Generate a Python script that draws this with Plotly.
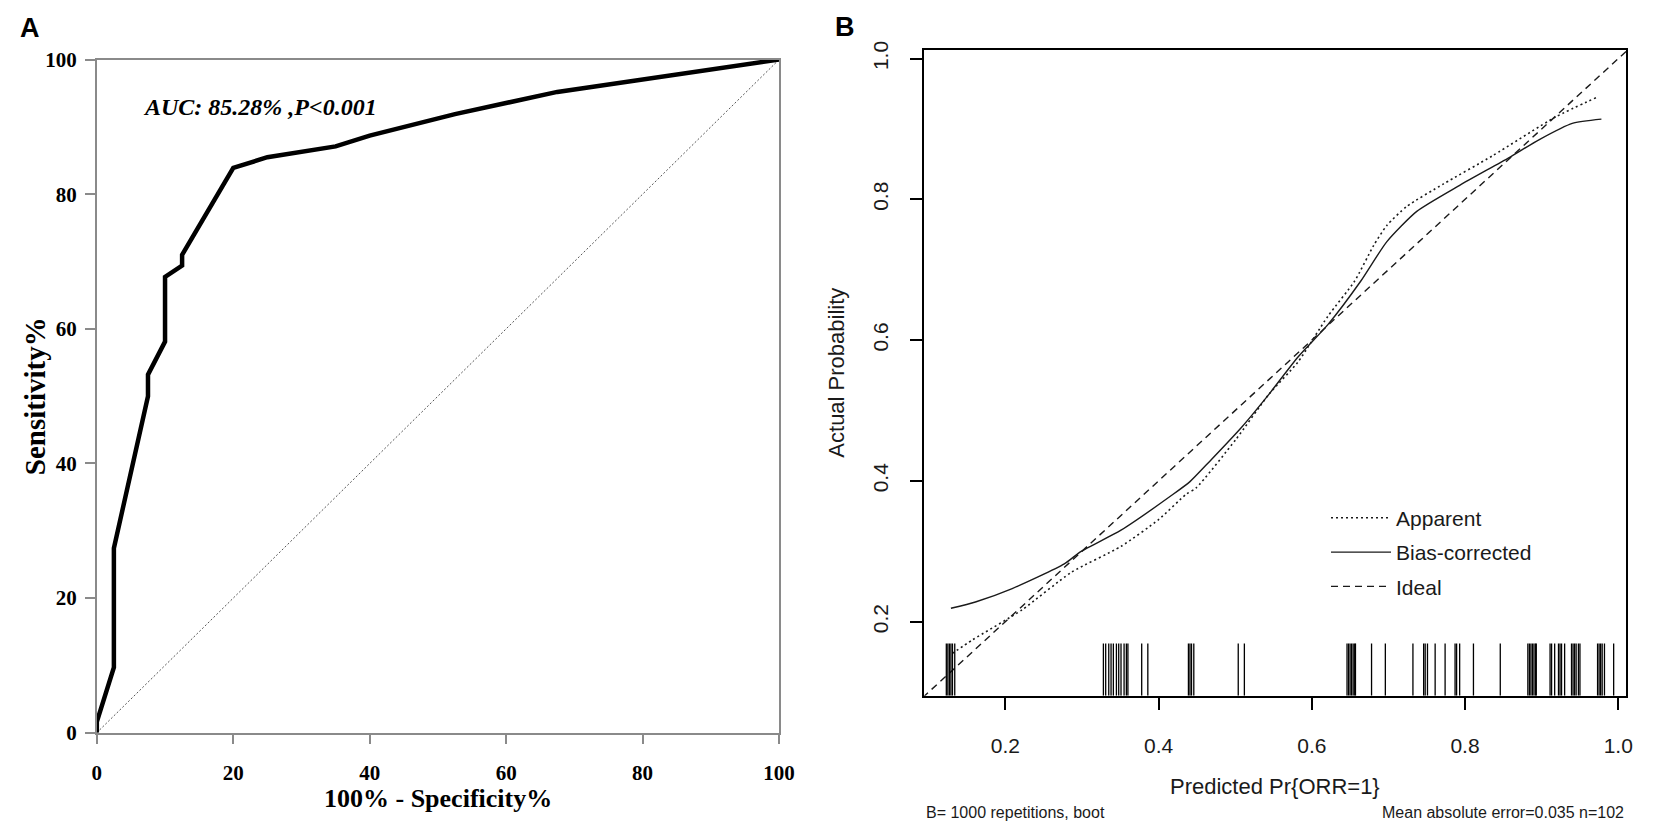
import plotly.graph_objects as go

W, H = 1654, 836

# ---- panel A : ROC curve ----
roc_fpr = [0, 0, 2.5, 2.5, 7.5, 7.5, 10, 10, 12.5, 12.5, 20, 25, 35, 40, 52.5, 67.5, 100]
roc_tpr = [0, 1.6, 9.7, 27.4, 50.0, 53.2, 58.1, 67.7, 69.4, 71.0, 83.9, 85.5, 87.1, 88.7, 91.9, 95.2, 100]
ref_line = [0, 100]
roc_ticks = [0, 20, 40, 60, 80, 100]
auc_text = "AUC: 85.28% ,P<0.001"

# ---- panel B : calibration curve ----
app_x = [0.131, 0.157, 0.222, 0.286, 0.351, 0.400, 0.436, 0.449, 0.501, 0.544, 0.582,
         0.621, 0.656, 0.681, 0.698, 0.724, 0.772, 0.836, 0.918, 0.974]
app_y = [0.155, 0.174, 0.217, 0.270, 0.307, 0.345, 0.381, 0.390, 0.459, 0.523, 0.569,
         0.634, 0.684, 0.735, 0.763, 0.790, 0.822, 0.862, 0.917, 0.946]
bc_x = [0.129, 0.161, 0.209, 0.277, 0.299, 0.351, 0.419, 0.441, 0.466, 0.509, 0.544,
        0.582, 0.621, 0.664, 0.698, 0.737, 0.793, 0.857, 0.897, 0.940, 0.978]
bc_y = [0.219, 0.228, 0.247, 0.282, 0.300, 0.330, 0.381, 0.399, 0.427, 0.477, 0.523,
        0.576, 0.622, 0.684, 0.740, 0.783, 0.820, 0.859, 0.885, 0.908, 0.914]
ideal = [0.0, 1.1]
rug = [0.123, 0.125, 0.127, 0.129, 0.131, 0.134,
       0.328, 0.331, 0.335, 0.338, 0.341, 0.345, 0.348, 0.351, 0.355, 0.358, 0.360,
       0.378, 0.386, 0.439, 0.441, 0.443, 0.446, 0.504, 0.512,
       0.646, 0.648, 0.650, 0.652, 0.654, 0.656, 0.657, 0.678, 0.696, 0.732,
       0.746, 0.748, 0.751, 0.761, 0.774, 0.787, 0.789, 0.793, 0.811, 0.846,
       0.882, 0.884, 0.886, 0.888, 0.890, 0.892, 0.893, 0.911, 0.913, 0.917,
       0.922, 0.924, 0.926, 0.930, 0.939, 0.941, 0.943, 0.945, 0.948, 0.950,
       0.973, 0.975, 0.977, 0.979, 0.982, 0.994]
cal_ticks = [0.2, 0.4, 0.6, 0.8, 1.0]
note_left = "B= 1000 repetitions, boot"
note_right = "Mean absolute error=0.035 n=102"

xr_b = [0.0941, 1.0103]
yr_b = [0.0947, 1.0124]
rug_top = 0.169

serif = "Liberation Serif"
sans = "Liberation Sans"
grey = "#8a8a8a"
ink = "#1a1a1a"


def px(x):
    return x / W


def py(y):
    return 1 - y / H


fig = go.Figure()

# ROC
fig.add_trace(go.Scatter(x=ref_line, y=ref_line, mode="lines", xaxis="x", yaxis="y",
                         line=dict(color="#555555", width=1, dash="2px,2px"),
                         showlegend=False, hoverinfo="skip"))
fig.add_trace(go.Scatter(x=roc_fpr, y=roc_tpr, mode="lines", xaxis="x", yaxis="y",
                         line=dict(color="black", width=4.5), showlegend=False))

# calibration
fig.add_trace(go.Scatter(x=app_x, y=app_y, mode="lines", name="Apparent",
                         xaxis="x2", yaxis="y2", legendgroup="a",
                         line=dict(color=ink, width=1.6, dash="2px,3px", shape="spline",
                                   smoothing=0.6)))
fig.add_trace(go.Scatter(x=bc_x, y=bc_y, mode="lines", name="Bias-corrected",
                         xaxis="x2", yaxis="y2", legendgroup="b",
                         line=dict(color=ink, width=1.4, shape="spline", smoothing=0.6)))
fig.add_trace(go.Scatter(x=ideal, y=ideal, mode="lines", name="Ideal",
                         xaxis="x2", yaxis="y2", legendgroup="c",
                         line=dict(color=ink, width=1.4, dash="7px,5px")))

rx, ry = [], []
for v in rug:
    rx += [v, v, None]
    ry += [yr_b[0], rug_top, None]
fig.add_trace(go.Scatter(x=rx, y=ry, mode="lines", xaxis="x2", yaxis="y2",
                         line=dict(color="black", width=1.3), showlegend=False,
                         hoverinfo="skip"))

axis_a = dict(showline=True, linecolor=grey, linewidth=1.5, mirror=True,
              ticks="outside", tickcolor=grey, ticklen=10, tickwidth=1.5,
              showgrid=False, zeroline=False,
              tickfont=dict(family=serif, size=21, color="black", weight="bold"),
              tickvals=roc_ticks)
axis_b = dict(showline=True, linecolor="black", linewidth=1.8, mirror=True,
              ticks="outside", tickcolor="black", ticklen=12, tickwidth=1.5,
              showgrid=False, zeroline=False,
              tickfont=dict(family=sans, size=21, color=ink),
              tickvals=cal_ticks, ticktext=[f"{t:.1f}" for t in cal_ticks])

fig.update_layout(
    width=W, height=H,
    margin=dict(l=0, r=0, t=0, b=0),
    paper_bgcolor="white", plot_bgcolor="white",
    xaxis=dict(axis_a, domain=[px(93), px(784)], range=[0, 100], anchor="y",
               ticklabelstandoff=10),
    yaxis=dict(axis_a, domain=[py(742), py(49)], range=[0, 100], anchor="x",
               ticklabelstandoff=4),
    xaxis2=dict(axis_b, domain=[px(931), px(1642)], range=xr_b, anchor="y2",
                ticklabelstandoff=18),
    yaxis2=dict(axis_b, domain=[py(704), py(39)], range=yr_b, anchor="x2",
                tickangle=-90, ticklabelstandoff=14),
    legend=dict(x=px(1338), y=py(500), xanchor="left", yanchor="top",
                font=dict(family=sans, size=21, color=ink),
                bgcolor="rgba(0,0,0,0)", tracegroupgap=4, itemwidth=60),
    showlegend=True,
)

ann = [
    dict(text="<b>A</b>", x=px(25), y=py(16), font=dict(family=sans, size=27, color="black")),
    dict(text="<b>B</b>", x=px(851), y=py(15), font=dict(family=sans, size=27, color="black")),
    dict(text="<b><i>" + auc_text + "</i></b>", x=6.5, y=92.9, xref="x", yref="y",
         xanchor="left", font=dict(family=serif, size=24, color="black")),
    dict(text="<b>100% - Specificity%</b>", x=px(439), y=py(810),
         font=dict(family=serif, size=26, color="black")),
    dict(text="<b>Sensitivity%</b>", x=px(30), y=py(396), textangle=-90,
         font=dict(family=serif, size=29, color="black")),
    dict(text="Predicted Pr{ORR=1}", x=px(1286), y=py(797),
         font=dict(family=sans, size=22, color=ink)),
    dict(text="Actual Probability", x=px(842), y=py(371), textangle=-90,
         font=dict(family=sans, size=22, color=ink)),
    dict(text=note_left, x=px(931), y=py(824), xanchor="left",
         font=dict(family=sans, size=16, color=ink)),
    dict(text=note_right, x=px(1642), y=py(824), xanchor="right",
         font=dict(family=sans, size=16, color=ink)),
]
for a in ann:
    a.setdefault("xref", "paper")
    a.setdefault("yref", "paper")
    a.setdefault("xanchor", "center")
    a["yanchor"] = "middle"
    a["showarrow"] = False
fig.update_layout(annotations=ann)

fig.write_html("out.html", config={"displayModeBar": False},
               post_script="document.body.style.margin='0';")
